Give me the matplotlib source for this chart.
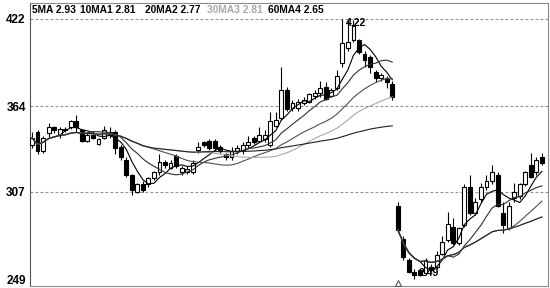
import matplotlib as mpl
mpl.use('Agg')
import matplotlib.pyplot as plt
import pandas as pd

# daily candles, prices in 0.01 yuan (axis labels are shown that way)
opens = [338, 347, 334, 346, 350, 345, 349, 350, 354, 348, 341, 345, 339, 343, 347, 347, 337, 328, 318, 307,
         312, 312, 316, 320, 327, 323, 331, 320, 320, 320, 335, 340, 341, 341, 337, 332, 330, 334, 334, 338,
         343, 341, 342, 338, 351, 356, 375, 363, 363, 366, 367, 371, 373, 377, 371, 376, 393, 403, 408, 408,
         399, 397, 387, 383, 383, 379,
         298, 276, 262, 254, 255, 253, 257, 257, 266, 275, 284, 273, 285, 310, 293, 302, 310, 314, 318, 293,
         283, 303, 304, 312, 325, 320, 330]
highs = [347, 348, 344, 353, 351, 350, 350, 355, 358, 349, 347, 346, 343, 351, 350, 348, 338, 330, 319, 313,
         314, 317, 321, 332, 328, 328, 332, 324, 324, 328, 340, 341, 342, 342, 338, 333, 337, 338, 340, 344,
         344, 350, 348, 360, 360, 390, 377, 368, 369, 370, 373, 375, 381, 380, 376, 388, 422, 421, 421, 409,
         401, 398, 388, 386, 384, 381,
         300, 278, 263, 256, 256, 263, 259, 268, 278, 294, 290, 284, 312, 318, 303, 313, 318, 325, 320, 300,
         300, 313, 313, 321, 333, 330, 333]
lows = [336, 332, 333, 343, 346, 343, 347, 349, 347, 340, 340, 342, 338, 342, 343, 332, 328, 317, 305, 306,
        307, 310, 315, 318, 323, 322, 323, 318, 319, 319, 333, 337, 335, 335, 333, 328, 328, 332, 332, 336,
        339, 340, 340, 337, 350, 355, 361, 361, 361, 365, 366, 369, 370, 368, 370, 375, 390, 401, 407, 399,
        390, 386, 380, 381, 376, 368,
        280, 262, 253, 249, 251, 252, 254, 256, 265, 274, 272, 272, 284, 292, 292, 300, 308, 312, 297, 280,
        282, 300, 302, 311, 316, 318, 325]
closes = [343, 334, 343, 350, 348, 349, 348, 354, 350, 341, 345, 343, 342, 348, 345, 336, 330, 318, 308, 312,
          308, 316, 320, 327, 325, 326, 324, 323, 322, 326, 337, 338, 336, 336, 334, 330, 334, 336, 338, 340,
          340, 345, 345, 354, 355, 375, 362, 366, 367, 368, 372, 373, 376, 369, 375, 384, 406, 407, 417, 400,
          395, 390, 383, 385, 380, 370,
          282, 264, 254, 252, 252, 262, 255, 265, 274, 286, 273, 283, 310, 293, 300, 310, 314, 320, 298, 285,
          298, 307, 312, 320, 317, 328, 326]
gap_at = 66  # first candle after the ex-rights drop

ma_windows = [5, 10, 20, 30, 60]
ma_names = ['5MA', '10MA1', '20MA2', '30MA3', '60MA4']
ma_values = ['2.93', '2.81', '2.77', '2.81', '2.65']
ma_colors = ['#000000', '#303030', '#505050', '#a8a8a8', '#202020']

yticks = [422, 364, 307, 249]
grid_levels = [422, 364, 307]
high_label = '4.22'
low_label = '2.49'

fig = plt.figure(figsize=(5.5, 2.88), dpi=100)
ax = fig.add_axes([30 / 550, 2 / 288, 518 / 550, 283 / 288])

n = len(closes)
xs = list(range(n))

for g in grid_levels:
    ax.axhline(g, color='#909090', lw=0.8, ls=(0, (2.5, 2)), zorder=1)

# candles
w = 0.7
for i in xs:
    o, h, l, c = opens[i], highs[i], lows[i], closes[i]
    ax.vlines(i, l, h, color='black', lw=0.8, zorder=3)
    bot = min(o, c)
    hgt = max(abs(c - o), 0.6)
    if c >= o:
        ax.bar(i, hgt, w, bottom=bot, facecolor='white', edgecolor='black', lw=0.8, zorder=4)
    else:
        ax.bar(i, hgt, w, bottom=bot, facecolor='black', edgecolor='black', lw=0.8, zorder=4)

# moving averages, restarted after the gap
s = pd.Series(closes, dtype=float)
for win, col in zip(ma_windows, ma_colors):
    for a, b in [(0, gap_at), (gap_at, n)]:
        seg = s.iloc[a:b].rolling(win, min_periods=1).mean()
        ax.plot(seg.index, seg.values, color=col, lw=0.8, zorder=5)

# high / low marks
ih = highs.index(max(highs))
il = lows.index(min(lows))
ax.text(ih + 0.6, max(highs) - 2.5, high_label, fontsize=7.5, fontweight='bold',
        family='Liberation Sans', va='center', ha='left', zorder=2)
ax.text(il + 0.7, min(lows) + 4, low_label, fontsize=7.5, fontweight='bold',
        family='Liberation Sans', va='center', ha='left', zorder=2)
ax.plot([gap_at], [246.5], marker='^', ms=5, mfc='white', mec='#555555', mew=0.8, zorder=6)

ax.set_xlim(-0.36, 93.1)
ax.set_ylim(244.5, 432.6)
ax.set_xticks([])
ax.set_yticks(yticks)
ax.set_yticklabels([str(v) for v in yticks], fontsize=8.5, fontweight='bold', family='Liberation Sans')
ax.tick_params(axis='y', length=0, pad=3)
for sp in ax.spines.values():
    sp.set_color('#8a8a8a')
    sp.set_linewidth(0.8)
ax.spines['left'].set_color('#555555')

# legend line at the top
leg_x = [32, 80, 145, 207, 268]
for x, name, val, col in zip(leg_x, ma_names, ma_values, ma_colors):
    fig.text(x / 550, 1 - 10 / 288, f'{name} {val}', fontsize=7.4, fontweight='bold',
             family='Liberation Sans', color=col if col == '#a8a8a8' else 'black', va='center', ha='left')

fig.savefig('out.png', dpi=100)
